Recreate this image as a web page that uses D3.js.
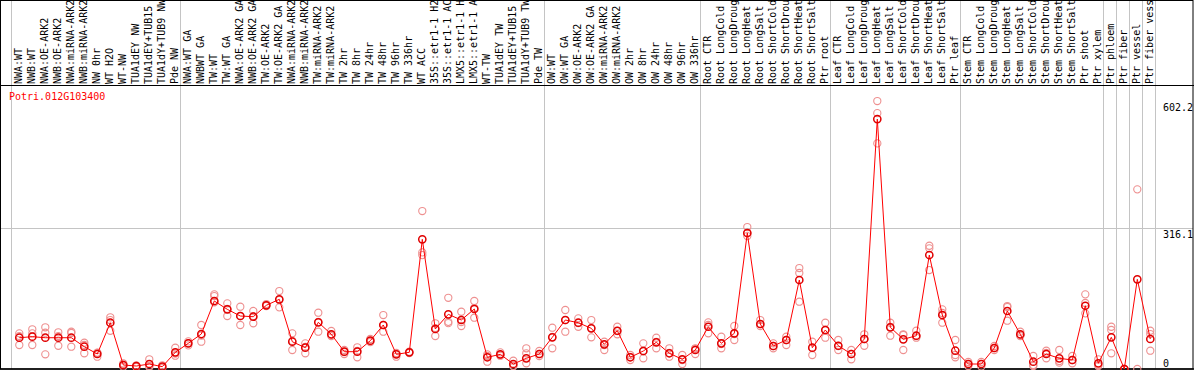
<!DOCTYPE html>
<html>
<head>
<meta charset="utf-8">
<script src="https://cdn.jsdelivr.net/npm/d3@7"></script>
<style>
html,body{margin:0;padding:0;background:#fff;}
svg{display:block;}
text{font-family:"DejaVu Sans Mono",monospace;font-size:10px;}
</style>
</head>
<body>
<svg id="chart" width="1194" height="370"></svg>
<script>
const geneName = "Potri.012G103400";

const categories = [
"NWA:WT","NWB:WT","NWA:OE-ARK2","NWB:OE-ARK2","NWA:miRNA-ARK2","NWB:miRNA-ARK2","NW 0hr","WT H2O","WT-NW","TUA1dEY NW","TUA1dEY+TUB15 NW","TUA1dY+TUB9 NW","Pde NW",
"NWA:WT GA","NWBWT GA","TW:WT","TW:WT GA","NWA:OE-ARK2 GA","NWB:OE-ARK2 GA","TW:OE-ARK2","TW:OE-ARK2 GA","NWA:miRNA-ARK2","NWB:miRNA-ARK2","TW:miRNA-ARK2","TW:miRNA-ARK2","TW 2hr","TW 8hr","TW 24hr","TW 48hr","TW 96hr","TW 336hr","WT ACC","35S::etr1-1 H2O","35S::etr1-1 ACC","LMX5::etr1-1 H2O","LMX5::etr1-1 ACC","WT-TW","TUA1dEY TW","TUA1dEY+TUB15 TW","TUA1dY+TUB9 TW","Pde TW",
"OW:WT","OW:WT GA","OW:OE-ARK2","OW:OE-ARK2 GA","OW:miRNA-ARK2","OW:miRNA-ARK2","OW 2hr","OW 8hr","OW 24hr","OW 48hr","OW 96hr","OW 336hr",
"Root CTR","Root LongCold","Root LongDrought","Root LongHeat","Root LongSalt","Root ShortCold","Root ShortDrought","Root ShortHeat","Root ShortSalt","Ptr root",
"Leaf CTR","Leaf LongCold","Leaf LongDrought","Leaf LongHeat","Leaf LongSalt","Leaf ShortCold","Leaf ShortDrought","Leaf ShortHeat","Leaf ShortSalt","Ptr leaf",
"Stem CTR","Stem LongCold","Stem LongDrought","Stem LongHeat","Stem LongSalt","Stem ShortCold","Stem ShortDrought","Stem ShortHeat","Stem ShortSalt","Ptr shoot","Ptr xylem",
"Ptr phloem","Ptr fiber","Ptr vessel","Ptr fiber vessel"
];

const groupSizes = [13, 28, 12, 10, 10, 11, 1, 1, 1, 1];

const meanValues = [
70.3,72.6,70.3,70.3,70.3,50.1,33.7,104.0,9.0,6.7,11.2,5.2,37.5,
57.7,78.6,152.8,134.1,119.1,117.5,143.1,156.6,61.3,47.9,104.9,78.0,38.9,38.9,63.6,98.9,33.0,37.5,291.4,89.9,122.9,110.1,134.8,26.3,33.0,11.2,24.0,33.7,
71.2,110.1,104.0,91.4,55.5,86.0,26.3,40.4,60.0,35.3,21.8,42.7,
95.0,57.7,80.2,305.6,101.1,51.7,65.2,200.0,47.9,87.6,
52.3,33.7,67.4,561.7,93.7,66.7,74.8,256.1,121.3,41.1,
11.2,11.2,47.2,130.3,78.0,16.4,33.7,24.0,20.2,142.2,12.8,
71.2,0,201.5,67.4
];

const replicateValues = [
[80.2,53.9,74],[89.2,80.2,53.9],[93.7,81.6,33.0],[82.5,52.3,74],[83.8,80.9,50.1],[59.1,35.3,53.9],[36.8,27.6,36],[116.2,86.0,110],[9,5.2,12.4],[6.7,7.9,4.5],[21.8,6.7,4.5],[8.3,3.8,2.2],[47.9,29.9,34.8],
[62,53,58],[98.9,61.3,75.3],[167.8,164,150],[147.6,119.1,134.8],[140,98.9,119.1],[130.3,102.7,119],[146,141.5,143.8],[175.2,138.6,155],[80.2,42.7,62.9],[57.7,35.3,49.4],[126.5,83.8,105.6],[85.4,74.1,76.4],[42.7,33.7,38.2],[48.8,26.3,40.4],[67.4,60.7,63],[121.3,83.8,98.9],[27.6,36,33.7],[37.5,36,39],[355,262,256],[102.7,74.1,92],[160,103,106],[128.7,96.6,105.6],[152.8,115.3,137],[33,16.4,29.2],[37.5,31.5,29.9],[18.6,6.7,6.7],[46.5,35.3,12.8],[40.4,29.2,33.7],
[92.8,46.5,71.9],[132.6,83.8,110],[113.9,95,103.3],[110,71.2,92],[61.3,42.7,53.9],[95,78,85.4],[31.5,20.2,27],[57.7,24,40.4],[70.3,46.5,60.7],[46.5,27.6,36],[31.5,11.2,20.2],[46.5,33.7,44.9],
[104.9,80.2,98.9],[72.6,46.5,56.2],[96.6,65.2,78.6],[319,298.8,305.6],[110,96.6,101],[57.7,46.5,51.7],[72.6,53.9,65.2],[226.9,215.7,151.2],[61.3,31.5,47.2],[104,70.3,87.6],
[65.2,42.7,51.7],[42.7,21.8,33.7],[78,52.3,67.4],[602.2,507,575],[104,74.8,94.4],[76.4,42.7,78],[86,70.3,74.1],[277,271.2,222.4],[134.1,104,125.8],[65.2,31.5,26.3],
[15.7,6.7,11.2],[15.7,5.6,11.2],[51.7,42.7,47.2],[141.5,108.5,139.3],[83.8,74.1,76.4],[29.2,9,6.7],[41.1,24,36],[42.7,14.2,18],[29.2,12.8,20.2],[167.8,125.1,148.3],[21.8,6.7,9],
[95,87.6,35.3],[0,0,0],[403.7,0],[86,78.6,41.1]
];

const yTickValues = [0, 316.1, 602.2];
const yTickLabels = ["0", "316.1", "602.2"];

const W = 1194, H = 370;
const svg = d3.select("#chart");

const x = d3.scalePoint().domain(d3.range(categories.length)).range([19.3, 1150.3]);
const y = d3.scaleLinear().domain([0, 636]).range([369, 86]);

// group boundary grid lines
let bounds = [];
let acc = 0;
groupSizes.forEach(s => { bounds.push(acc); acc += s; });
const gridX = bounds.map(i => x(i) - 8).concat([x(categories.length - 1) + 5]);

svg.append("g").selectAll("line").data(gridX).join("line")
  .attr("x1", d => Math.round(d) + 0.5).attr("x2", d => Math.round(d) + 0.5)
  .attr("y1", 0).attr("y2", 369)
  .attr("stroke", "#c4c4c4").attr("stroke-width", 1);

// horizontal reference line
svg.append("line")
  .attr("x1", 1).attr("x2", 1193)
  .attr("y1", Math.round(y(316.1)) + 0.5).attr("y2", Math.round(y(316.1)) + 0.5)
  .attr("stroke", "#c4c4c4").attr("stroke-width", 1);

// header labels
svg.append("clipPath").attr("id", "hdr").append("rect")
  .attr("x", 0).attr("y", 1).attr("width", W).attr("height", 84);

svg.append("g").attr("clip-path", "url(#hdr)")
  .selectAll("text").data(categories).join("text")
  .attr("transform", (d, i) => `translate(${x(i) + 3},84) rotate(-90)`)
  .attr("text-anchor", "start")
  .attr("fill", "#000")
  .text(d => d);

// borders
svg.append("rect").attr("x", 0.5).attr("y", 0.5).attr("width", 1192.5).attr("height", 368.5)
  .attr("fill", "none").attr("stroke", "#000").attr("stroke-width", 1);
svg.append("line").attr("x1", 0).attr("x2", W).attr("y1", 85.5).attr("y2", 85.5)
  .attr("stroke", "#000").attr("stroke-width", 1);
svg.append("line").attr("x1", 0).attr("x2", W).attr("y1", 369).attr("y2", 369)
  .attr("stroke", "#000").attr("stroke-width", 1.5);

// gene name
svg.append("text").attr("x", 9).attr("y", 100).attr("fill", "#ff0000").text(geneName);

// y axis labels
const yAxis = d3.axisRight(y).tickValues(yTickValues)
  .tickFormat((d, i) => yTickLabels[i]).tickSize(0).tickPadding(0);
const ya = svg.append("g").attr("transform", "translate(1163,0)").call(yAxis);
ya.select(".domain").remove();
ya.selectAll("text")
  .attr("font-family", '"DejaVu Sans Mono",monospace').attr("font-size", 10)
  .attr("fill", "#000").attr("x", 0)
  .attr("dy", d => d === 0 ? "-3px" : "9px");

// replicate points
const repPts = [];
replicateValues.forEach((arr, i) => arr.forEach(v => repPts.push({i, v})));
svg.append("g").selectAll("circle").data(repPts).join("circle")
  .attr("cx", d => x(d.i)).attr("cy", d => y(d.v)).attr("r", 3.6)
  .attr("fill", "none").attr("stroke", "#ee9090").attr("stroke-width", 1.1);

// mean line
const line = d3.line().x((d, i) => x(i)).y(d => y(d));
svg.append("path").datum(meanValues).attr("d", line)
  .attr("fill", "none").attr("stroke", "#ff0000").attr("stroke-width", 1);

// mean points
svg.append("g").selectAll("circle").data(meanValues).join("circle")
  .attr("cx", (d, i) => x(i)).attr("cy", d => y(d)).attr("r", 3.6)
  .attr("fill", "none").attr("stroke", "#e00000").attr("stroke-width", 1.5);
</script>
</body>
</html>
